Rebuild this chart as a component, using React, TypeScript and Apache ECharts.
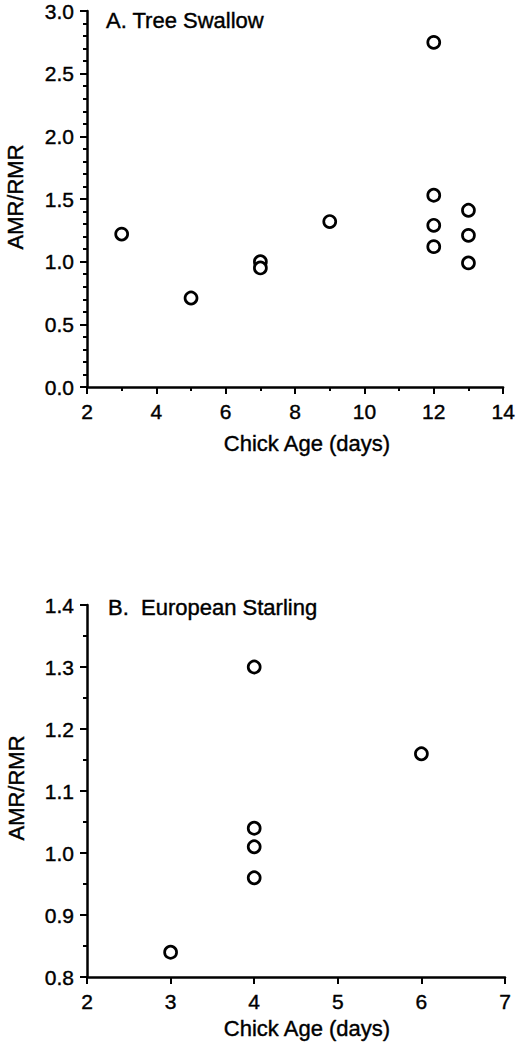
import React, { useEffect, useRef } from "react";
import * as echarts from "echarts";

// Panel A: Tree Swallow
const tsAge = [3, 5, 7, 7, 9, 12, 12, 12, 12, 13, 13, 13];
const tsRatio = [1.22, 0.71, 1.0, 0.95, 1.32, 2.75, 1.53, 1.29, 1.12, 1.41, 1.21, 0.99];

// Panel B: European Starling
const esAge = [3, 4, 4, 4, 4, 6];
const esRatio = [0.84, 1.3, 1.04, 1.01, 0.96, 1.16];

const titleA = "A. Tree Swallow";
const titleB = "B.  European Starling";
const xName = "Chick Age (days)";
const yName = "AMR/RMR";

const FONT = "'Liberation Sans', Arial, Helvetica, sans-serif";

export default function App() {
  const ref = useRef<HTMLDivElement>(null);
  useEffect(() => {
    if (!ref.current) return;
    const chart = echarts.init(ref.current, null, { renderer: "svg" });
    const axisLine = { show: true, onZero: false, lineStyle: { color: "#000", width: 2.5 } };
    const axisTick = { show: true, inside: false, length: 7, lineStyle: { color: "#000", width: 2 } };
    const axisLabel = {
      color: "#000",
      fontSize: 21,
      fontFamily: FONT,
      textBorderColor: "#000",
      textBorderWidth: 0.4,
    };
    const sym = {
      type: "scatter" as const,
      symbol: "circle",
      symbolSize: 12,
      itemStyle: { color: "#fff", borderColor: "#000", borderWidth: 2.7, opacity: 1 },
      z: 5,
    };
    const txt = (x: number, y: number, text: string, extra: any = {}) => ({
      type: "text",
      x,
      y,
      style: {
        text,
        fill: "#000",
        stroke: "#000",
        lineWidth: 0.4,
        font: `22px ${FONT}`,
        align: "left",
        verticalAlign: "middle",
        ...extra,
      },
    });
    chart.setOption({
      animation: false,
      backgroundColor: "#fff",
      grid: [
        { left: 87, right: 12, top: 11, height: 376 },
        { left: 87, right: 13, top: 605, height: 372 },
      ],
      xAxis: [
        {
          gridIndex: 0,
          type: "value",
          min: 2,
          max: 14,
          interval: 2,
          axisLine,
          axisTick,
          minorTick: { show: true, splitNumber: 2, length: 4, lineStyle: { color: "#000", width: 2 } },
          axisLabel: { ...axisLabel, margin: 14 },
          splitLine: { show: false },
        },
        {
          gridIndex: 1,
          type: "value",
          min: 2,
          max: 7,
          interval: 1,
          axisLine,
          axisTick,
          axisLabel: { ...axisLabel, margin: 14 },
          splitLine: { show: false },
        },
      ],
      yAxis: [
        {
          gridIndex: 0,
          type: "value",
          min: 0,
          max: 3,
          interval: 0.5,
          axisLine,
          axisTick,
          minorTick: { show: true, splitNumber: 5, length: 4, lineStyle: { color: "#000", width: 2 } },
          axisLabel: { ...axisLabel, margin: 13, formatter: (v: number) => v.toFixed(1) },
          splitLine: { show: false },
        },
        {
          gridIndex: 1,
          type: "value",
          min: 0.8,
          max: 1.4,
          interval: 0.1,
          axisLine,
          axisTick,
          minorTick: { show: true, splitNumber: 2, length: 4, lineStyle: { color: "#000", width: 2 } },
          axisLabel: { ...axisLabel, margin: 13, formatter: (v: number) => v.toFixed(1) },
          splitLine: { show: false },
        },
      ],
      series: [
        { ...sym, xAxisIndex: 0, yAxisIndex: 0, data: tsAge.map((a, i) => [a, tsRatio[i]]) },
        { ...sym, xAxisIndex: 1, yAxisIndex: 1, data: esAge.map((a, i) => [a, esRatio[i]]) },
      ],
      graphic: [
        txt(106, 20, titleA),
        txt(108, 607, titleB),
        txt(307, 443, xName, { align: "center" }),
        txt(307, 1028, xName, { align: "center" }),
        { ...txt(15, 197, yName, { align: "center" }), rotation: Math.PI / 2 },
        { ...txt(16, 788, yName, { align: "center" }), rotation: Math.PI / 2 },
      ],
    });
    return () => chart.dispose();
  }, []);
  return (
    <div
      ref={ref}
      style={{ position: "fixed", left: 0, top: 0, width: 518, height: 1051, background: "#fff" }}
    />
  );
}
